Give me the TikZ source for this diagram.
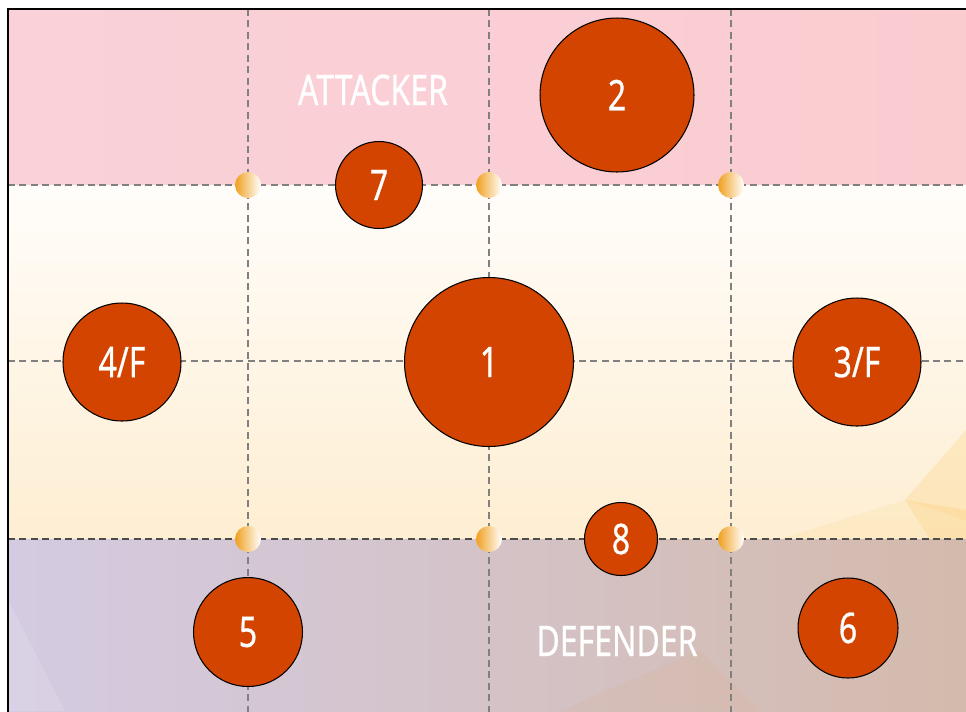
\documentclass[tikz,border=0pt]{standalone}
\usepackage{fontspec}
\setmainfont{Noto Sans}[FakeStretch=0.76, FakeBold=0.6]
\usetikzlibrary{backgrounds}

\definecolor{zonepink}{RGB}{250,209,217}
\definecolor{zonepinkR}{RGB}{250,204,208}
\definecolor{zonecreamT}{RGB}{255,253,250}
\definecolor{zonecreamB}{RGB}{254,238,210}
\definecolor{zonelilacL}{RGB}{212,203,226}
\definecolor{zonelilacR}{RGB}{212,186,172}
\definecolor{polyyellow}{RGB}{252,214,140}
\definecolor{playerred}{RGB}{210,68,0}
\definecolor{dotorange}{RGB}{240,160,30}
\definecolor{gridgray}{RGB}{128,128,128}

\begin{document}
\begin{tikzpicture}[
    x=0.02cm, y=-0.02cm,
    player/.style={circle, draw=black, line width=0.6pt, fill=playerred,
        text=white, inner sep=0pt, font=\fontsize{24}{26}\selectfont},
    zonelabel/.style={text=white, inner sep=0pt, font=\fontsize{24}{26}\selectfont},
    gridline/.style={gridgray, line width=0.6pt, dash pattern=on 4pt off 2.5pt},
    spot/.style={circle, inner sep=0pt, minimum size=0.52cm,
        left color=dotorange, right color=white}
]
\useasboundingbox (0,0) rectangle (966,711);

% zones
\begin{scope}
\clip (0,0) rectangle (966,711);
\fill[white] (0,0) rectangle (966,711);
\shade[left color=zonepink, right color=zonepinkR] (8,9) rectangle (972,185);
\shade[top color=zonecreamT, bottom color=zonecreamB] (8,185) rectangle (972,539);
\fill[polyyellow, opacity=0.35] (966,430) -- (905,500) -- (966,520) -- cycle;
\fill[polyyellow, opacity=0.5] (905,500) -- (966,510) -- (966,539) -- (930,539) -- cycle;
\fill[polyyellow, opacity=0.2] (780,539) -- (905,500) -- (930,539) -- cycle;
\shade[left color=zonelilacL, right color=zonelilacR] (8,539) rectangle (972,717);
\fill[zonelilacR!80!orange, opacity=0.15] (560,711) -- (700,650) -- (760,711) -- cycle;
\fill[white, opacity=0.12] (8,600) -- (65,711) -- (8,711) -- cycle;

% grid
\foreach \gx in {248,489,731}
    \draw[gridline] (\gx,9) -- (\gx,717);
\draw[gridline] (8,185) -- (972,185);
\draw[gridline] (8,361) -- (972,361);
\draw[gridline, draw=black!70] (8,539) -- (972,539);

% frame
\draw[black, line width=1.1pt] (8,717) -- (8,9) -- (972,9);
\end{scope}

% spots on the zone lines
\node[spot] (s1) at (248,185) {};
\node[spot] (s2) at (489,185) {};
\node[spot] (s3) at (731,185) {};
\node[spot] (s4) at (248,539) {};
\node[spot] (s5) at (489,539) {};
\node[spot] (s6) at (731,539) {};

% zone names
\node[zonelabel] (attacker) at (373,90) {ATTACKER};
\node[zonelabel] (defender) at (617,641) {DEFENDER};

% players
\node[player, minimum size=3.08cm] (p2) at (617,95) {2};
\node[player, minimum size=1.74cm] (p7) at (379,185) {7};
\node[player, minimum size=2.36cm] (p4) at (122,362) {4/F};
\node[player, minimum size=3.38cm] (p1) at (489,362) {1};
\node[player, minimum size=2.56cm] (p3) at (857,362) {3/F};
\node[player, minimum size=1.46cm] (p8) at (621,539) {8};
\node[player, minimum size=2.18cm] (p5) at (248,632) {5};
\node[player, minimum size=2.0cm] (p6) at (848,628) {6};

\end{tikzpicture}
\end{document}
